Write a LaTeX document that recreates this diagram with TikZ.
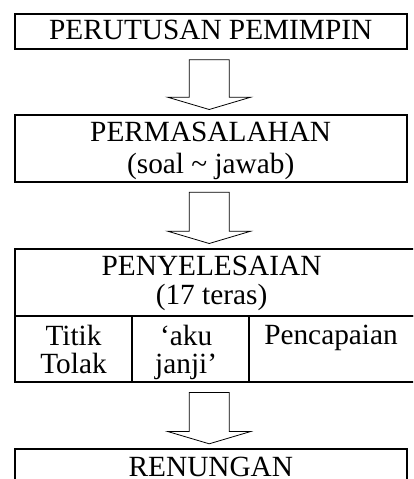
\documentclass[tikz,border=0pt]{standalone}
\usepackage{fontspec}
\setmainfont{Liberation Serif}
\usepackage{tikz}
\usetikzlibrary{positioning, calc}

\begin{document}
\begin{tikzpicture}[x=1pt, y=1pt,
  frame/.style={draw, line width=1.8pt, rectangle, inner sep=0pt, outer sep=0pt, anchor=north west},
  words/.style={inner sep=0pt, outer sep=0pt, align=center, font=\fontsize{29.3}{28.6}\selectfont},
  blockarrow/.style={draw, line width=0.8pt, line join=miter}]
  \def\gap{10.5}
  \def\tipgap{5.5}
  \def\shaft{20}
  \def\head{41.5}
  \def\headlen{12.3}

  \useasboundingbox (0,0) rectangle (413,-479);
  \clip (0,0) rectangle (413,-479);

  \node[frame, minimum width=392pt, minimum height=35pt] (perutusan) at (14.7,-14.3) {};
  \node[words, below=5.8pt of perutusan.north] (perutusan_t) {PERUTUSAN PEMIMPIN};

  % 2nd
  \node[frame, minimum width=392pt, minimum height=66.7pt] (masalah) at (14.7,-115) {};
  \node[words, below=7.5pt of masalah.north] (masalah_t) {PERMASALAHAN\\[3pt](soal \textasciitilde{} jawab)};

  % 3rd, table
  \node[frame, minimum width=400.3pt, minimum height=67pt] (selesai) at (14.7,-249) {};
  \node[words, below=7.5pt of selesai.north, xshift=-3.3pt] (selesai_t) {PENYELESAIAN\\(17 teras)};

  \node[frame, minimum width=117.6pt, minimum height=66pt] (titik) at (selesai.south west) {};
  \node[frame, minimum width=116.7pt, minimum height=66pt] (janji) at (titik.north east) {};
  \node[frame, minimum width=166pt, minimum height=66pt] (capai) at (janji.north east) {};
  \node[words, below=9pt of titik.north] (titik_t) {Titik\\Tolak};
  \node[words, below=9pt of janji.north, xshift=-4.5pt] (janji_t) {‘aku\\janji’};
  \node[words, below=9pt of capai.north, xshift=-1pt] (capai_t) {Pencapaian};

  % 4th
  \node[frame, minimum width=392.3pt, minimum height=60pt] (renungan) at (14.7,-449.3) {};
  \node[words, below=7.8pt of renungan.north] (renungan_t) {RENUNGAN};

  \foreach \from/\to in {perutusan/masalah, masalah/selesai, titik/renungan} {
    \path (\from.south -| perutusan.south) ++(-1.5,-\gap) coordinate (top);
    \path (\to.north -| perutusan.south) ++(-1.5,\tipgap) coordinate (tip);
    \draw[blockarrow] (tip) -- ++(-\head,\headlen) -- ++(\head-\shaft,0)
      -- ($(top)+(-\shaft,0)$) -- ($(top)+(\shaft,0)$)
      -- ($(tip)+(\shaft,\headlen)$) -- ($(tip)+(\head,\headlen)$) -- cycle;
  }
\end{tikzpicture}
\end{document}
